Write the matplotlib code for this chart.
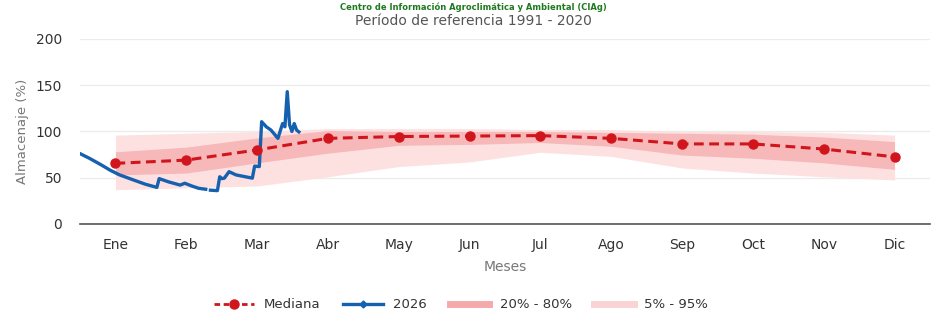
import numpy as np
import matplotlib.pyplot as plt
from matplotlib.lines import Line2D

meses = ['Ene', 'Feb', 'Mar', 'Abr', 'May', 'Jun', 'Jul', 'Ago', 'Sep', 'Oct', 'Nov', 'Dic']

mediana = [65.5, 69, 80, 92.5, 94.5, 95, 95.5, 92.5, 86.5, 86.5, 81, 72.5]
p20 = [53, 55, 66, 76.5, 85, 86, 88, 84, 74.5, 71, 66, 59]
p80 = [78, 83, 93, 101, 100, 100, 100, 99, 98, 97, 94, 89]
p5 = [37, 39, 41, 51, 62, 67, 77.5, 73, 60.5, 55, 51, 47.5]
p95 = [96, 98, 100, 103, 103, 103, 102, 102, 100, 100, 99, 96]

# 2026, dia del año (desde el 1 de enero) y almacenaje; NaN = sin dato
dias_2026 = [0, 4, 9, 13, 17, 23, 28, 33, 34, 38, 43, 45, 48, 51, 54, 55,
             56, 59, 60, 61, 62, 64, 67, 71, 74, 75, 77, 78, 80, 82, 85,
             87, 88, 89, 90, 91, 92, 93, 94]
valores_2026 = [76, 71, 64, 58, 53, 47.5, 43, 39.5, 49, 45.5, 42, 44, 41,
                38.5, 37.5, np.nan, 36.5, 36, 51, 49, 49.5, 56.5, 53, 51,
                49.5, 62.5, 62, 110.5, 105, 101.5, 92.5, 108.5, 105, 143,
                107, 100, 108.5, 101.5, 99.5]

x_mes = np.arange(len(meses))
x_2026 = np.array(dias_2026) / 30.42 - 0.5

fig, ax = plt.subplots(figsize=(9.47, 3.19), dpi=100)
fig.subplots_adjust(left=0.0845, right=0.982, bottom=0.298, top=0.878)

c_light = '#fde1e1'
c_dark = '#f6b8b9'
c_red = '#d0161c'
c_blue = '#1561b0'

ax.fill_between(x_mes, p5, p95, color=c_light, lw=0, zorder=1)
ax.fill_between(x_mes, p20, p80, color=c_dark, lw=0, zorder=2)
ax.plot(x_mes, mediana, color=c_red, ls=(0, (3.2, 1.8)), lw=2.2, marker='o',
        ms=6.5, zorder=4)
ax.plot(x_2026, valores_2026, color=c_blue, lw=2.4, zorder=3)

ax.set_xlim(-0.5, 11.5)
ax.set_ylim(0, 200)
ax.set_yticks([0, 50, 100, 150, 200])
ax.set_xticks(x_mes)
ax.set_xticklabels(meses)
ax.tick_params(axis='both', length=0, labelsize=10, colors='#333333')
ax.tick_params(axis='x', pad=10)
ax.tick_params(axis='y', pad=13)
ax.grid(axis='y', color='#ececec', lw=1)
ax.set_axisbelow(True)
for s in ['top', 'right', 'left']:
    ax.spines[s].set_visible(False)
ax.spines['bottom'].set_color('#555555')
ax.spines['bottom'].set_linewidth(1.2)

ax.set_ylabel('Almacenaje (%)', color='#777777', fontsize=9.5, labelpad=5)
ax.set_xlabel('Meses', color='#777777', fontsize=10, labelpad=6)

fig.text(0.5, 0.978, 'Centro de Información Agroclimática y Ambiental (CIAg)',
         ha='center', va='center', fontsize=6, color='#1f7a1f', weight='bold')
fig.text(0.5, 0.935, 'Período de referencia 1991 - 2020', ha='center',
         va='center', fontsize=10, color='#555555')

handles = [
    Line2D([], [], color=c_red, ls=(0, (2, 1.3)), lw=2, marker='o', ms=6.5),
    Line2D([], [], color=c_blue, lw=2.4, marker='D', ms=3.5),
    Line2D([], [], color='#f6a9aa', lw=5),
    Line2D([], [], color='#fbd3d4', lw=5),
]
fig.legend(handles, ['Mediana', '2026', '20% - 80%', '5% - 95%'],
           loc='center', bbox_to_anchor=(0.487, 0.045), ncol=4, frameon=False,
           fontsize=9.5, handlelength=3.0, handletextpad=0.8,
           columnspacing=1.7, labelcolor='#333333')

fig.savefig('out.png', dpi=100)
